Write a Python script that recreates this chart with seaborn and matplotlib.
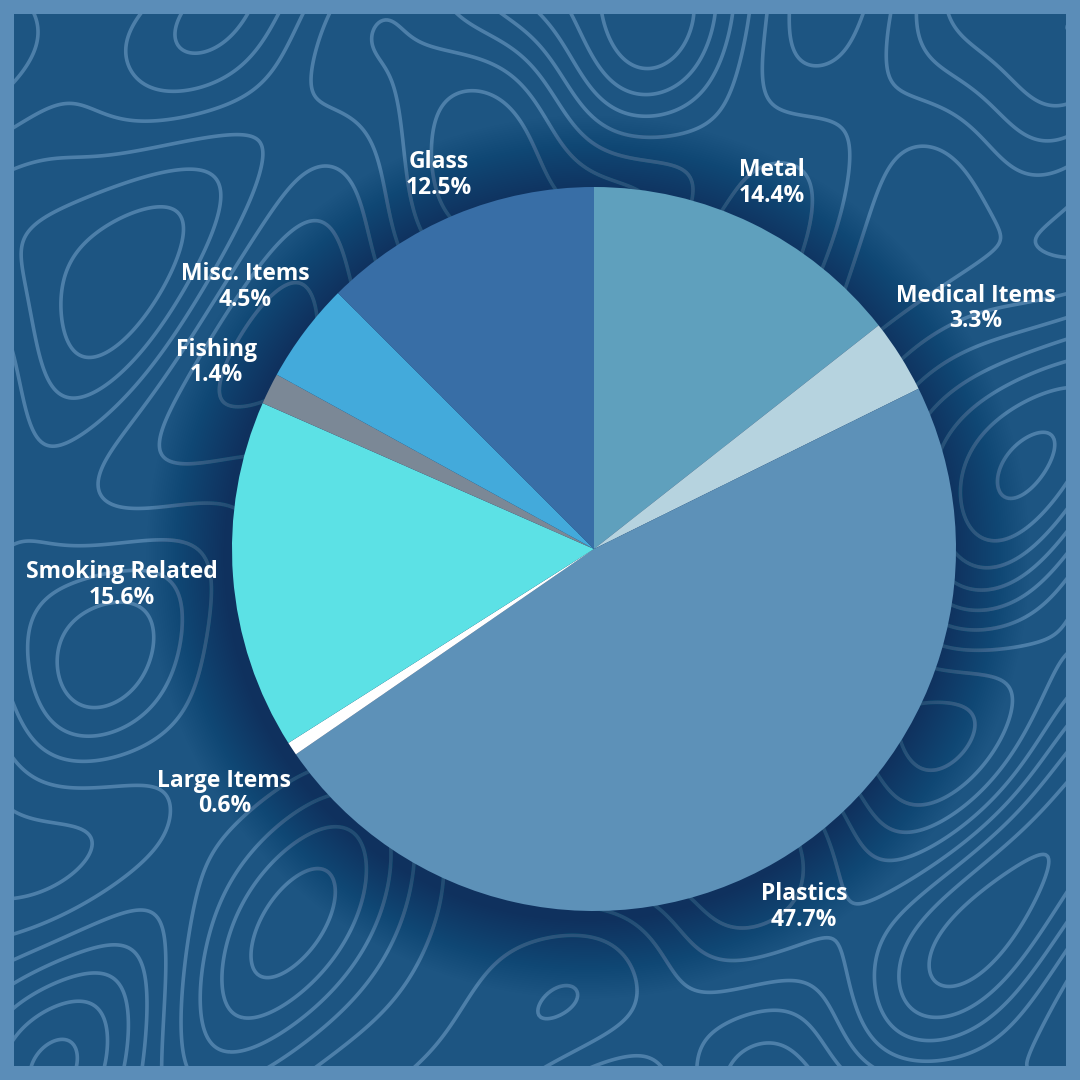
import numpy as np
import matplotlib
matplotlib.use("Agg")
import matplotlib.pyplot as plt
from matplotlib.patches import Rectangle, Circle
import seaborn as sns

# ---- data ----
categories = ["Metal", "Medical Items", "Plastics", "Large Items",
              "Smoking Related", "Fishing", "Misc. Items", "Glass"]
values = [14.4, 3.3, 47.7, 0.6, 15.6, 1.4, 4.5, 12.5]
slice_colors = ["#5fa0bd", "#b6d3df", "#5d91b8", "#ffffff",
                "#5ce1e5", "#7b8896", "#43aadb", "#386ea6"]
label_dist = [1.124, 1.246, 1.147, 1.224, 1.307, 1.164, 1.206, 1.119]

sns.set_theme(style="white")
plt.rcParams['font.family'] = ['Open Sans', 'DejaVu Sans']

W = 1080
fig = plt.figure(figsize=(10.8, 10.8), dpi=100, facecolor="#5b8db8")
ax = fig.add_axes([0, 0, 1, 1])
ax.set_xlim(0, W)
ax.set_ylim(0, W)
ax.set_aspect("equal")
ax.axis("off")

# background panel
bg = Rectangle((14, 14), W - 28, W - 28, facecolor="#1d5582", edgecolor="none", zorder=0)
ax.add_patch(bg)

# decorative topographic lines
gx = np.linspace(0, W, 500)
gy = np.linspace(0, W, 500)
X, Y = np.meshgrid(gx, gy)
F = (np.sin(X / 60.0 + 0.8 * np.cos(Y / 90.0)) + np.cos(Y / 70.0 + 0.9 * np.sin(X / 110.0))
     + 0.7 * np.sin((X + Y) / 95.0) + 0.6 * np.cos((X - 1.3 * Y) / 80.0)
     + 0.4 * np.sin(X / 37.0 - Y / 53.0))
cs = ax.contour(X, Y, F, levels=np.linspace(-3.0, 3.0, 10), colors="#6e9cc4",
                linewidths=2.6, alpha=0.6, linestyles="solid", zorder=1)
cs.set_clip_path(bg)

cx, cy, R = 594, 531, 362

# soft shadow
for k in range(36, 0, -1):
    ax.add_patch(Circle((cx - 6, cy - 8), R + k * 2.2, facecolor="#0f2f52",
                        edgecolor="none", alpha=0.02, zorder=2))

pal = sns.color_palette(slice_colors)
wedges, _ = ax.pie(values, colors=pal, startangle=90, counterclock=False,
                   center=(cx, cy), radius=R, frame=True,
                   wedgeprops=dict(linewidth=0, zorder=3))
ax.set_xlim(0, W)
ax.set_ylim(0, W)
ax.axis("off")

for w, name, v, d in zip(wedges, categories, values, label_dist):
    ang = np.deg2rad((w.theta1 + w.theta2) / 2.0)
    tx = cx + R * d * np.cos(ang)
    ty = cy + R * d * np.sin(ang)
    ax.text(tx, ty, f"{name}\n{v:.1f}%", ha="center", va="center",
            color="white", fontsize=16.5, fontweight="bold",
            linespacing=1.1, zorder=5)

fig.savefig("out.png", dpi=100, facecolor=fig.get_facecolor())
